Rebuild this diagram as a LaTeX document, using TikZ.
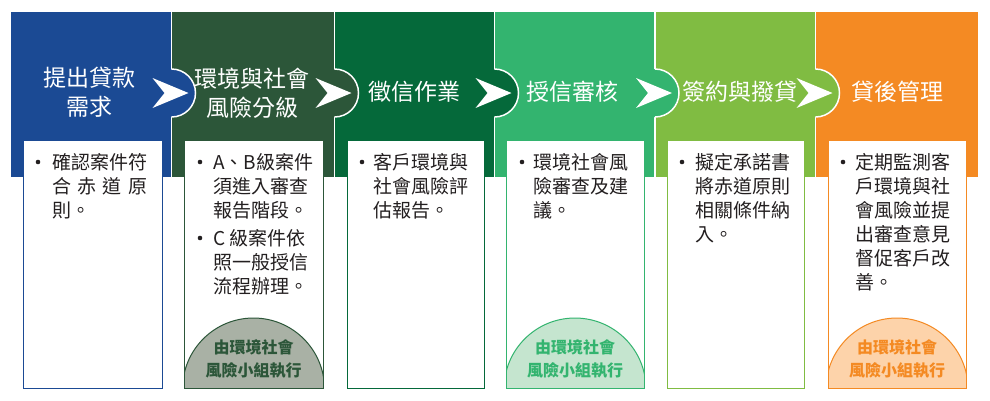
\documentclass[tikz,border=0pt]{standalone}
\usepackage{fontspec}
\newfontfamily\cjk{Noto Sans CJK TC}
\definecolor{cA}{HTML}{1B4A94}
\definecolor{cB}{HTML}{2C5639}
\definecolor{cC}{HTML}{05693A}
\definecolor{cD}{HTML}{33B46F}
\definecolor{cE}{HTML}{80BC42}
\definecolor{cF}{HTML}{F48A23}
\definecolor{dB}{HTML}{A9B1A5}
\definecolor{dD}{HTML}{C5E5CF}
\definecolor{dF}{HTML}{FDD3AA}
\definecolor{txt}{HTML}{231F20}
\tikzset{
  titletext/.style={text=white, font=\cjk\fontsize{23}{29}\selectfont, align=center, inner sep=0pt},
  bodytext/.style={anchor=base west, inner sep=0pt, text=txt, font=\cjk\fontsize{19}{24}\selectfont},
  dometext/.style={font=\cjk\bfseries\fontsize{16}{23}\selectfont, align=center, inner sep=0pt},
  chev/.style={fill=white},
  bumpline/.style={draw=white, line width=1.5pt},
  bullet/.style={fill=txt},
  boxline/.style={line width=1pt, fill=white},
}
\newcommand{\bodyline}[1]{\parbox[t]{110pt}{#1}}
\begin{document}
\begin{tikzpicture}[x=1pt,y=-1pt]
\useasboundingbox (0,0) rectangle (990,400);
\fill[white] (0,0) rectangle (990,400);
% column bands
\fill[cA] (11,12) rectangle (170.75,177);
\fill[cB] (172.25,12) rectangle (333.75,177);
\fill[cC] (335.25,12) rectangle (493.75,177);
\fill[cD] (495.25,12) rectangle (654.25,177);
\fill[cE] (655.75,12) rectangle (814.75,177);
\fill[cF] (816.25,12) rectangle (978,177);
% bumps
\foreach \xr/\c in {171.5/cA, 334.5/cB, 494.5/cC, 655/cD, 815.5/cE}{
  \fill[\c] (\xr-1,69) -- (\xr,69) arc[start angle=-90,end angle=90,radius=24] -- (\xr-1,117) -- cycle;
  \draw[bumpline] (\xr,69) arc[start angle=-90,end angle=90,radius=24];
  \fill[chev] (\xr-19,78) -- (\xr+17,93) -- (\xr-19,108) -- (\xr-7,93) -- cycle;
}
% titles
\node[titletext] (t1) at (89,92.5) {提出貸款\\需求};
\node[titletext] (t2) at (252,93.5) {環境與社會\\風險分級};
\node[titletext] (t3) at (414,92) {徵信作業};
\node[titletext] (t4) at (572,92) {授信審核};
\node[titletext] (t5) at (740,92) {簽約與撥貸};
\node[titletext] (t6) at (897,92) {貸後管理};
% boxes
\filldraw[boxline, draw=cA] (23,140) rectangle (162,388);
\filldraw[boxline, draw=cB] (184,140) rectangle (323,388);
\filldraw[boxline, draw=cC] (347,140) rectangle (484,388);
\filldraw[boxline, draw=cD] (506,140) rectangle (644,388);
\filldraw[boxline, draw=cE] (667,140) rectangle (804,388);
\filldraw[boxline, draw=cF] (828,140) rectangle (966,388);
% domes
\foreach \l/\r/\f/\c in {184/323/dB/cB, 506/644/dD/cD, 828/966/dF/cF}{
  \begin{scope}
    \clip (\l,140) rectangle (\r,388);
    \filldraw[fill=\f, draw=\c, line width=1pt] ({(\l+\r)/2},389) circle (71);
  \end{scope}
  \draw[\c, line width=1pt] (\l,140) rectangle (\r,388);
}
\node[dometext, text=cB] (d2) at (253.5,359.5) {由環境社會\\風險小組執行};
\node[dometext, text=cD] (d4) at (575,359.5) {由環境社會\\風險小組執行};
\node[dometext, text=cF] (d6) at (897,359.5) {由環境社會\\風險小組執行};
% bullets
\foreach \bx/\by in {38/162, 200/162, 200/238, 362/162, 522/162, 682/162, 843/162}{
  \fill[bullet] (\bx,\by) circle (2.3);
}
% body texts
\node[bodytext] (b1) at (52,169) {\bodyline{確認案件符\\\makebox[95pt][s]{合\hfill 赤\hfill 道\hfill 原}\\則。}};
\node[bodytext] (b2a) at (213,169) {\bodyline{A、B級案件\\須進入審查\\報告階段。}};
\node[bodytext] (b2b) at (213,245) {\bodyline{C 級案件依\\照一般授信\\流程辦理。}};
\node[bodytext] (b3) at (373,169) {\bodyline{客戶環境與\\社會風險評\\估報告。}};
\node[bodytext] (b4) at (533,169) {\bodyline{環境社會風\\險審查及建\\議。}};
\node[bodytext] (b5) at (695,169) {\bodyline{擬定承諾書\\將赤道原則\\相關條件納\\入。}};
\node[bodytext] (b6) at (855,169) {\bodyline{定期監測客\\戶環境與社\\會風險並提\\出審查意見\\督促客戶改\\善。}};
\end{tikzpicture}
\end{document}
